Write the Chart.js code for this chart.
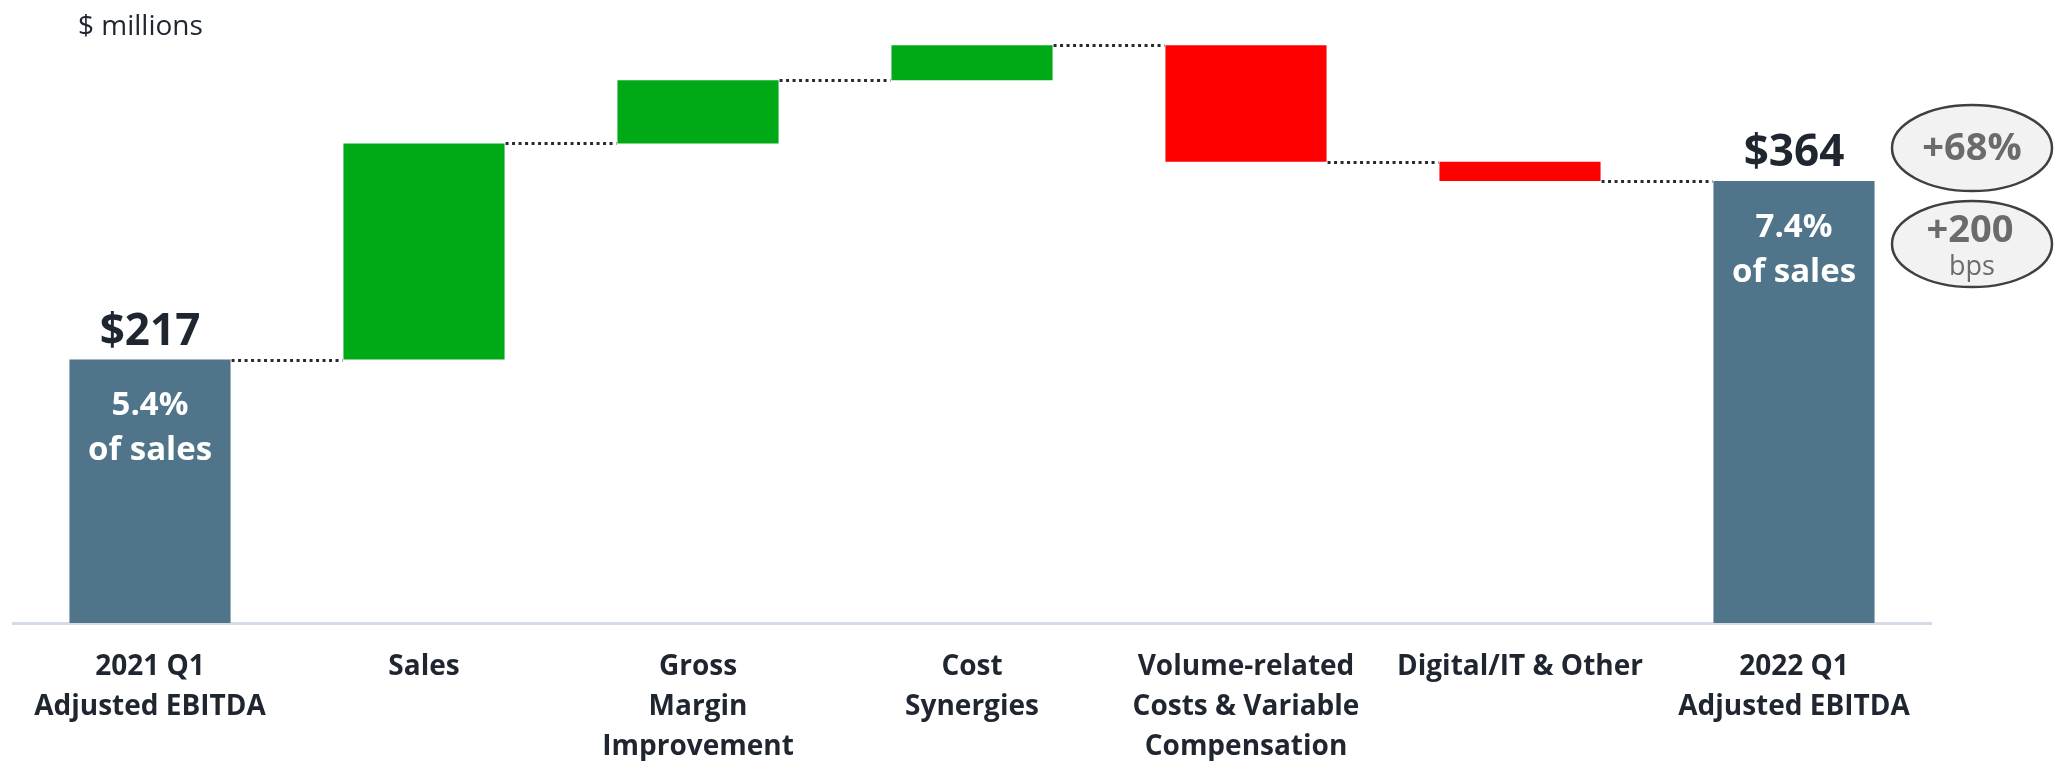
<!DOCTYPE html>
<html>
<head>
<meta charset="utf-8">
<script src="https://cdn.jsdelivr.net/npm/chart.js@4.4.1/dist/chart.umd.min.js"></script>
<style>
  html, body { margin: 0; padding: 0; background: #ffffff; }
  #wrap { width: 2055px; height: 761px; }
</style>
</head>
<body>
<div id="wrap"><canvas id="bridgeChart" width="2055" height="761"></canvas></div>
<script>
// Chart data ($ millions)
const categories = [
    ['2021 Q1', 'Adjusted EBITDA'],
    'Sales',
    ['Gross', 'Margin', 'Improvement'],
    ['Cost', 'Synergies'],
    ['Volume-related', 'Costs & Variable', 'Compensation'],
    'Digital/IT & Other',
    ['2022 Q1', 'Adjusted EBITDA']
];
const startValue = 217;
const deltas = [178, 52, 29, -96, -16];
const endValue = 364;
const totalLabels = ['$217', '$364'];
const marginLabels = ['5.4%', '7.4%'];
const growthLabels = ['+68%', '+200', 'bps'];

const FONT = "'Open Sans', 'DejaVu Sans', sans-serif";
const TOTAL_COLOR = '#50758a';
const UP_COLOR = '#00a916';
const DOWN_COLOR = '#ff0000';
const TEXT_COLOR = '#1f2630';

// Build floating bars and running totals
function buildBars() {
    const bars = [[0, startValue]];
    const colors = [TOTAL_COLOR];
    const levels = [startValue];
    let running = startValue;
    deltas.forEach(d => {
        bars.push([running, running + d]);
        colors.push(d >= 0 ? UP_COLOR : DOWN_COLOR);
        running += d;
        levels.push(running);
    });
    bars.push([0, endValue]);
    colors.push(TOTAL_COLOR);
    levels.push(endValue);
    return { bars, colors, levels };
}

const bridge = buildBars();

const annotationPlugin = {
    id: 'bridgeAnnotations',
    afterDatasetsDraw(chart) {
        const ctx = chart.ctx;
        const meta = chart.getDatasetMeta(0);
        const yScale = chart.scales.y;
        const area = chart.chartArea;

        ctx.save();

        // dotted connectors between bars
        ctx.strokeStyle = '#262b33';
        ctx.lineWidth = 3;
        ctx.setLineDash([3, 3.5]);
        for (let i = 0; i < meta.data.length - 1; i++) {
            const a = meta.data[i];
            const b = meta.data[i + 1];
            const y = Math.round(yScale.getPixelForValue(bridge.levels[i])) + 0.5;
            ctx.beginPath();
            ctx.moveTo(a.x + a.width / 2 + 1, y);
            ctx.lineTo(b.x - b.width / 2 - 1, y);
            ctx.stroke();
        }
        ctx.setLineDash([]);

        // total labels and margins
        const totalIdx = [0, meta.data.length - 1];
        totalIdx.forEach((idx, k) => {
            const bar = meta.data[idx];
            const top = Math.min(bar.y, bar.base);
            ctx.textAlign = 'center';
            ctx.textBaseline = 'alphabetic';
            ctx.fillStyle = TEXT_COLOR;
            ctx.font = `bold 44px ${FONT}`;
            ctx.fillText(totalLabels[k], bar.x, top - 15);

            ctx.fillStyle = '#ffffff';
            ctx.textBaseline = 'middle';
            ctx.font = `bold 33px ${FONT}`;
            ctx.fillText(marginLabels[k], bar.x, top + 46);
            ctx.fillText('of sales', bar.x, top + 91);
        });

        // growth ellipses to the right of the final bar
        const last = meta.data[meta.data.length - 1];
        const lastTop = Math.min(last.y, last.base);
        const cx = area.right + 41;
        const ellipses = [lastTop - 33, lastTop + 63];
        ellipses.forEach(cy => {
            ctx.beginPath();
            ctx.ellipse(cx, cy, 80, 43, 0, 0, Math.PI * 2);
            ctx.fillStyle = '#f2f2f2';
            ctx.fill();
            ctx.lineWidth = 2.5;
            ctx.strokeStyle = '#3f3f3f';
            ctx.stroke();
        });
        ctx.fillStyle = '#6b6b6b';
        ctx.textAlign = 'center';
        ctx.textBaseline = 'middle';
        ctx.font = `bold 38px ${FONT}`;
        ctx.fillText(growthLabels[0], cx, ellipses[0] + 1);
        ctx.fillText(growthLabels[1], cx - 2, ellipses[1] - 13);
        ctx.font = `27px ${FONT}`;
        ctx.fillText(growthLabels[2], cx, ellipses[1] + 23);

        // unit note
        ctx.fillStyle = TEXT_COLOR;
        ctx.textAlign = 'left';
        ctx.font = `28px ${FONT}`;
        ctx.fillText('$ millions', 78, 27);

        ctx.restore();
    }
};

new Chart(document.getElementById('bridgeChart'), {
    type: 'bar',
    data: {
        labels: categories,
        datasets: [{
            data: bridge.bars,
            backgroundColor: bridge.colors,
            borderWidth: 0,
            borderSkipped: false,
            categoryPercentage: 1,
            barPercentage: 0.588
        }]
    },
    options: {
        responsive: false,
        animation: false,
        layout: {
            padding: { left: 13, right: 124, top: 16, bottom: 0 }
        },
        scales: {
            x: {
                grid: { display: false, drawTicks: false },
                border: { display: true, color: '#d5dce6', width: 3 },
                ticks: {
                    color: TEXT_COLOR,
                    padding: 24,
                    maxRotation: 0,
                    autoSkip: false,
                    font: { family: FONT, weight: 'bold', size: 28, lineHeight: 1.43 }
                },
                afterFit(scale) {
                    scale.height = 138;
                }
            },
            y: {
                display: false,
                min: 0,
                max: 500
            }
        },
        plugins: {
            legend: { display: false },
            tooltip: { enabled: false }
        }
    },
    plugins: [annotationPlugin]
});
</script>
</body>
</html>
